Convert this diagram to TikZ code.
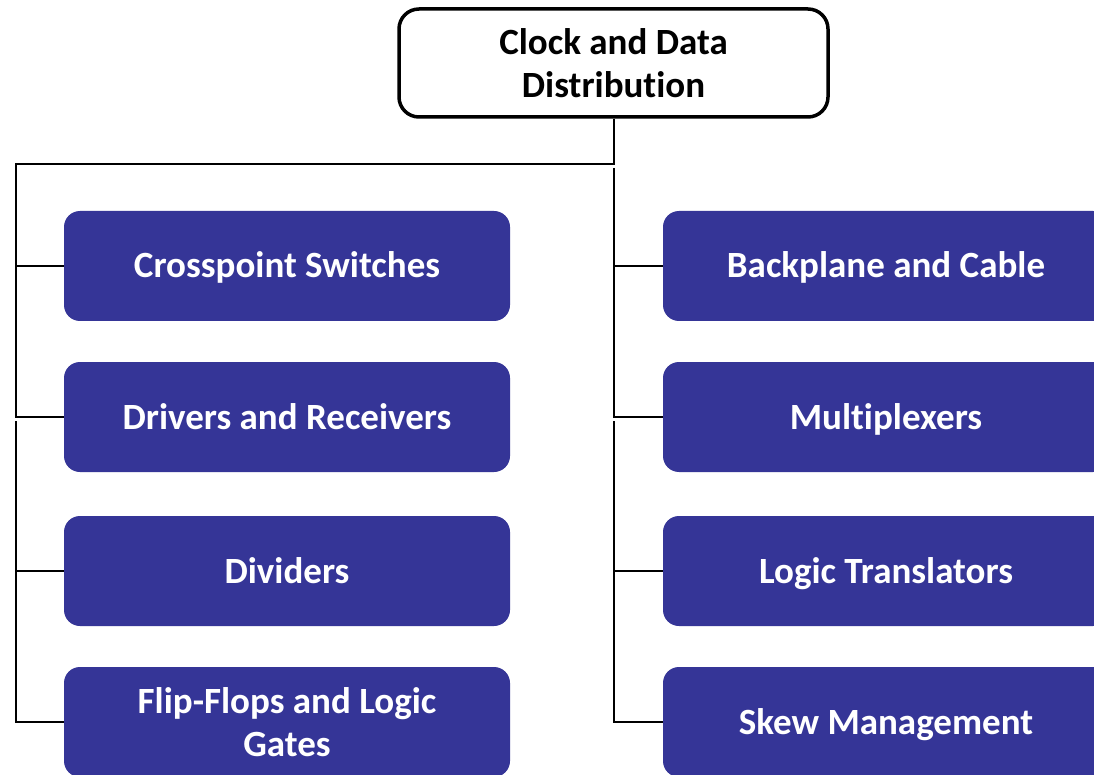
\documentclass[tikz,border=0pt]{standalone}
\usepackage{fontspec}
\setmainfont{Carlito}[Ligatures=NoCommon]
\definecolor{boxblue}{RGB}{53,53,151}
\tikzset{
  x=1pt, y=-1pt,
  bluebox/.style={fill=boxblue, rounded corners=16pt, minimum width=446pt, minimum height=110pt,
    text=white, font=\fontsize{37}{43}\selectfont\bfseries, align=center, inner sep=0pt},
  oneline/.style={text height=27pt, text depth=3pt},
  topbox/.style={draw=black, line width=3.5pt, fill=white, rounded corners=20pt, minimum width=429pt,
    minimum height=108pt, font=\fontsize{37}{43}\selectfont\bfseries, align=center, inner sep=0pt},
  conn/.style={draw=black, line width=2pt}
}
\begin{document}
\begin{tikzpicture}
\useasboundingbox (0,0) rectangle (1094,775);
\clip (0,0) rectangle (1094,775);
\fill[white] (0,0) rectangle (1094,775);
\node[topbox] (top) at (613.5,63) {Clock and Data\\Distribution};
\node[bluebox,oneline] (L1) at (287,266) {Crosspoint Switches};
\node[bluebox,oneline] (L2) at (287,417) {Drivers and Receivers};
\node[bluebox,oneline] (L3) at (287,571) {Dividers};
\node[bluebox] (L4) at (287,722) {Flip-Flops and Logic\\Gates};
\node[bluebox,oneline] (R1) at (886,266) {Backplane and Cable};
\node[bluebox,oneline] (R2) at (886,417) {Multiplexers};
\node[bluebox,oneline] (R3) at (886,571) {Logic Translators};
\node[bluebox,oneline] (R4) at (886,722) {Skew Management};
\coordinate (lrail) at (16,164);
\coordinate (lstart) at (16,421);
\coordinate (rtop) at (613.5,168);
\coordinate (rstart) at (613.5,421);
\draw[conn] (top.south) |- (lrail) |- (L2.west);
\draw[conn] (L1.west) -- +(-48,0);
\draw[conn] (lstart) |- (L4.west);
\draw[conn] (L3.west) -- +(-48,0);
\draw[conn] (rtop) |- (R2.west);
\draw[conn] (R1.west) -- +(-49.5,0);
\draw[conn] (rstart) |- (R4.west);
\draw[conn] (R3.west) -- +(-49.5,0);
\end{tikzpicture}
\end{document}
